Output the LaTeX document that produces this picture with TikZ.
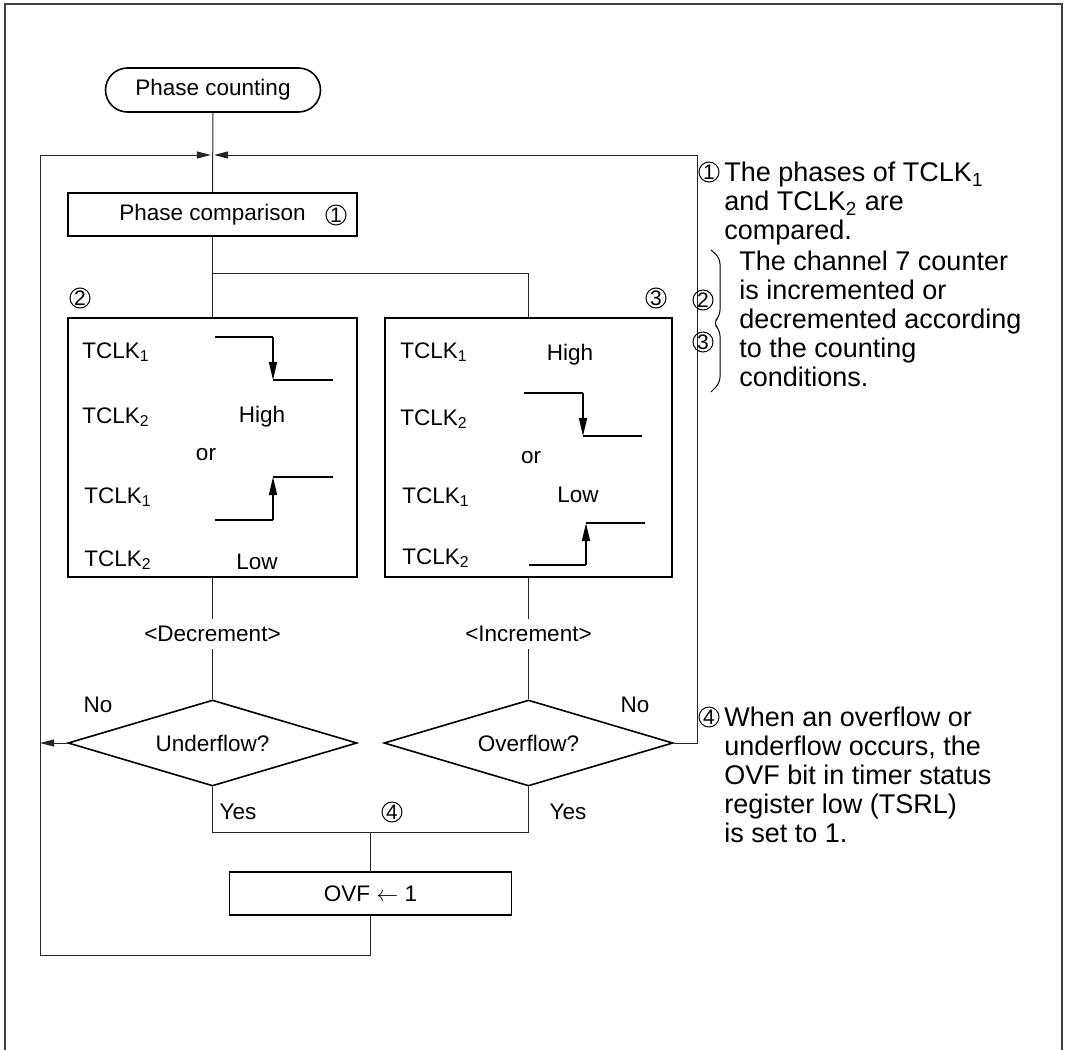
\documentclass[tikz,border=0pt]{standalone}
\usepackage{fontspec}
\setmainfont{Liberation Sans}
\usetikzlibrary{arrows.meta,positioning,shapes.geometric,calc}

\newcommand\tclk[1]{TCLK\textsubscript{#1}}
% one edge of a clock waveform: level, arrowed step, level
\newcommand\sigstep[5]{%
  \draw[sig] (#1,#2) -- (#3,#2);
  \draw[sig,-{Triangle[length=9pt,width=4pt]}] (#3,#2) -- (#3,#4);
  \draw[sig] (#3,#4) -- (#5,#4);}

\tikzset{
  box/.style={draw,line width=0.8pt,minimum height=21.5pt,inner sep=0pt},
  term/.style={draw,line width=0.8pt,rounded corners=11pt,minimum width=107.5pt,minimum height=22pt},
  decide/.style={draw,diamond,aspect=3.36,line width=0.8pt,inner sep=0pt,minimum width=144.5pt,minimum height=43pt},
  numc/.style={circle,draw,line width=0.5pt,inner sep=0pt,minimum size=10pt,font=\fontsize{10.5}{10.5}\selectfont},
  clk/.style={anchor=west,inner sep=0pt},
  note/.style={align=left,inner sep=0pt,anchor=north west,font=\fontsize{13.5}{14.5}\selectfont},
  conn/.style={line width=0.5pt,black!85},
  arr/.style={conn,-{Triangle[length=7pt,width=3.5pt]}},
  sig/.style={line width=0.7pt}
}

\begin{document}
\begin{tikzpicture}[x=0.5pt,y=-0.5pt,every node/.style={font=\fontsize{11.25}{13.5}\selectfont}]
\useasboundingbox (0,0) rectangle (1067,1050);
\draw[line width=0.8pt,black!75] (5,1050) -- (5,4) -- (1062,4) -- (1062,1050);

% flow
\node[term] (start) at (213,90) {Phase counting};
\node[box,minimum width=144.5pt] (cmp) at (212.5,214.5) {Phase comparison};
\node[numc] (n1) at (336,215) {1};
\coordinate (merge) at (212.5,155);
\coordinate (split) at (212.5,273);
\node[box,minimum width=144.5pt,minimum height=129.5pt] (lbox) at (212.5,447.5) {};
\node[box,minimum width=143.5pt,minimum height=129.5pt] (rbox) at (528.5,447.5) {};
\node[numc] (n2) at (80,298) {2};
\node[numc] (n3) at (656,298) {3};

% left box: decrement conditions
\node[clk] (l1) at (82,352) {\tclk1};
\node[clk] (l2) at (82,417) {\tclk2};
\node (lhigh) at (262,417) {High};
\node (lor) at (206,455) {or};
\node[clk] (l3) at (84,497) {\tclk1};
\node[clk] (l4) at (84,560) {\tclk2};
\node (llow) at (257,562) {Low};
\sigstep{215}{337}{273}{380}{333}
\sigstep{215}{520}{273}{477}{333}

% right box: increment conditions
\node[clk] (r1) at (400,352) {\tclk1};
\node (rhigh) at (570,355) {High};
\node[clk] (r2) at (400,419) {\tclk2};
\node (ror) at (531,458) {or};
\node[clk] (r3) at (402,497) {\tclk1};
\node (rlow) at (578,495) {Low};
\node[clk] (r4) at (402,558) {\tclk2};
\sigstep{524}{393}{583}{436}{642}
\sigstep{529}{565}{586}{523}{645}

\node (decr) at (212.5,634) {<Decrement>};
\node (incr) at (528.5,634) {<Increment>};
\node[decide] (under) at (212.5,743) {Underflow?};
\node[decide] (over) at (528.5,743) {Overflow?};
\node (uno) at (98,705) {No};
\node (ono) at (635,705) {No};
\node (uyes) at (238,812) {Yes};
\node (oyes) at (568,812) {Yes};
\node[numc] (n4) at (392,812) {4};
\node[box,minimum width=141pt] (ovf) at (370.5,893.5) {OVF $\leftarrow$ 1};
\coordinate (lloop) at (40,955);
\coordinate (rloop) at (697,155);

\draw[conn] (start.south) -- (cmp.north);
\draw[conn] (cmp.south) -- (lbox.north);
\draw[conn] (split) -| (rbox.north);
\draw[conn] (lbox.south) -- (decr.north);
\draw[conn] (decr.south) -- (under.north);
\draw[conn] (rbox.south) -- (incr.north);
\draw[conn] (incr.south) -- (over.north);
\draw[conn] (under.south) -- ++(0,46) -| (over.south);
\draw[conn] (ovf.north |- 0,832) -- (ovf.north);
\draw[arr] (ovf.south) |- (lloop) -- (lloop |- merge) -- ([xshift=-0.8pt]merge);
\draw[arr] (under.west) -- (under.west -| lloop);
\draw[arr] (over.east) -| (rloop) -- ([xshift=0.8pt]merge);

% notes
\node[numc] (m1) at (709,172) {1};
\node[note] (t1) at (724,162) {The phases of \tclk1\\and \tclk2 are\\compared.};
\node[numc] (m2) at (703,300) {2};
\node[numc] (m3) at (703,342) {3};
\draw[line width=0.5pt,rounded corners=3pt] (711,250) -- (720,258) -- (720,316) -- (713,323) -- (720,330) -- (720,383) -- (711,392);
\node[note] (t2) at (739,251) {The channel 7 counter\\is incremented or\\decremented according\\to the counting\\conditions.};
\node[numc] (m4) at (709,717) {4};
\node[note] (t4) at (724,707) {When an overflow or\\underflow occurs, the\\OVF bit in timer status\\register low (TSRL)\\is set to 1.};
\end{tikzpicture}
\end{document}
